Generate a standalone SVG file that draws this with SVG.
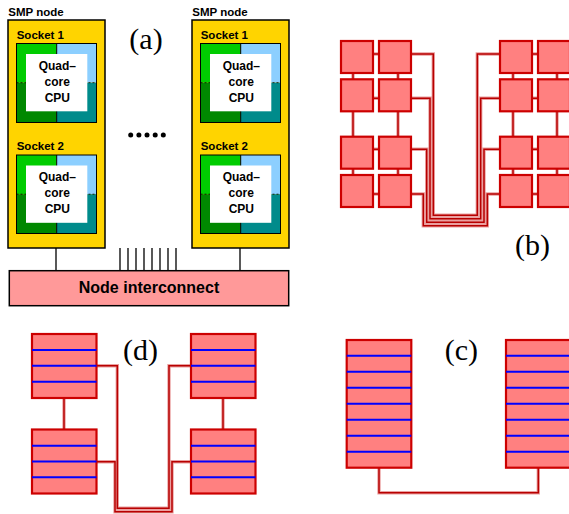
<svg xmlns="http://www.w3.org/2000/svg" width="569" height="514" viewBox="0 0 569 514">
<style>
.smp{fill:#ffd400;stroke:#000;stroke-width:1.5}
.lbl{font-family:"Liberation Sans",Arial,sans-serif;font-weight:bold;font-size:11.5px;fill:#000}
.cpu{font-family:"Liberation Sans",Arial,sans-serif;font-weight:bold;font-size:12px;fill:#000;text-anchor:middle}
.edge{fill:none;stroke:#000;stroke-width:1}
.dash{fill:none;stroke:#000;stroke-width:0.8;stroke-dasharray:2 2}
.sq{fill:#ff8080;stroke:#cc0000;stroke-width:2.2}
.halo{fill:none;stroke:#eaa0a0;stroke-width:3.4}
.wire{fill:none;stroke:#b80000;stroke-width:1.5}
.blue{stroke:#0000ff;stroke-width:2}
.cap{font-family:"Liberation Serif","Times New Roman",serif;font-size:30px;text-anchor:middle;fill:#000}
.bl{stroke:#000;stroke-width:1.3}
</style>
<rect width="569" height="514" fill="#fff"/>

<!-- Panel (a) -->
<g id="a-links">
  <path class="bl" d="M56 248V271M240 248V271M120 248V271M128 248V271M136 248V271M144 248V271M152 248V271M160 248V271M168 248V271M176 248V271"/>
</g>
<g id="smp-node-1">
  <text class="lbl" x="8.3" y="15.7">SMP node</text>
  <rect class="smp" x="8" y="20" width="97" height="228"/>
  <g id="smp1-socket1" transform="translate(16.5,43.5)">
    <text class="lbl" x="0.2" y="-5">Socket 1</text>
    <rect x="0" y="0" width="40.2" height="39.2" fill="#00cc00"/>
    <rect x="0" y="39.2" width="40.2" height="39.8" fill="#008800"/>
    <rect x="40.2" y="0" width="39.8" height="39.2" fill="#8ccfff"/>
    <rect x="40.2" y="39.2" width="39.8" height="39.8" fill="#008b8b"/>
    <path class="dash" d="M0 39.2H80"/>
    <path class="edge" d="M40.2 0V79"/>
    <rect class="edge" x="0" y="0" width="80" height="79"/>
    <rect x="9.5" y="10.5" width="61.3" height="57.3" fill="#fff"/>
    <text class="cpu" x="40.8" y="26.5">Quad–</text>
    <text class="cpu" x="40.8" y="42.5">core</text>
    <text class="cpu" x="40.8" y="58.2">CPU</text>
  </g>
  <g id="smp1-socket2" transform="translate(16.5,155)">
    <text class="lbl" x="0.2" y="-5.5">Socket 2</text>
    <rect x="0" y="0" width="40.2" height="39.2" fill="#00cc00"/>
    <rect x="0" y="39.2" width="40.2" height="39.3" fill="#008800"/>
    <rect x="40.2" y="0" width="39.8" height="39.2" fill="#8ccfff"/>
    <rect x="40.2" y="39.2" width="39.8" height="39.3" fill="#008b8b"/>
    <path class="dash" d="M0 39.2H80"/>
    <path class="edge" d="M40.2 0V78.5"/>
    <rect class="edge" x="0" y="0" width="80" height="78.5"/>
    <rect x="9.5" y="10.5" width="61.3" height="57.3" fill="#fff"/>
    <text class="cpu" x="40.8" y="26">Quad–</text>
    <text class="cpu" x="40.8" y="42">core</text>
    <text class="cpu" x="40.8" y="58">CPU</text>
  </g>
</g>
<g id="smp-node-2" transform="translate(184,0)">
  <text class="lbl" x="8.3" y="15.7">SMP node</text>
  <rect class="smp" x="8" y="20" width="97" height="228"/>
  <g id="smp2-socket1" transform="translate(16.5,43.5)">
    <text class="lbl" x="0.2" y="-5">Socket 1</text>
    <rect x="0" y="0" width="40.2" height="39.2" fill="#00cc00"/>
    <rect x="0" y="39.2" width="40.2" height="39.8" fill="#008800"/>
    <rect x="40.2" y="0" width="39.8" height="39.2" fill="#8ccfff"/>
    <rect x="40.2" y="39.2" width="39.8" height="39.8" fill="#008b8b"/>
    <path class="dash" d="M0 39.2H80"/>
    <path class="edge" d="M40.2 0V79"/>
    <rect class="edge" x="0" y="0" width="80" height="79"/>
    <rect x="9.5" y="10.5" width="61.3" height="57.3" fill="#fff"/>
    <text class="cpu" x="40.8" y="26.5">Quad–</text>
    <text class="cpu" x="40.8" y="42.5">core</text>
    <text class="cpu" x="40.8" y="58.2">CPU</text>
  </g>
  <g id="smp2-socket2" transform="translate(16.5,155)">
    <text class="lbl" x="0.2" y="-5.5">Socket 2</text>
    <rect x="0" y="0" width="40.2" height="39.2" fill="#00cc00"/>
    <rect x="0" y="39.2" width="40.2" height="39.3" fill="#008800"/>
    <rect x="40.2" y="0" width="39.8" height="39.2" fill="#8ccfff"/>
    <rect x="40.2" y="39.2" width="39.8" height="39.3" fill="#008b8b"/>
    <path class="dash" d="M0 39.2H80"/>
    <path class="edge" d="M40.2 0V78.5"/>
    <rect class="edge" x="0" y="0" width="80" height="78.5"/>
    <rect x="9.5" y="10.5" width="61.3" height="57.3" fill="#fff"/>
    <text class="cpu" x="40.8" y="26">Quad–</text>
    <text class="cpu" x="40.8" y="42">core</text>
    <text class="cpu" x="40.8" y="58">CPU</text>
  </g>
</g>
<g id="dots" fill="#000">
  <circle cx="130.7" cy="135" r="2.5"/><circle cx="138.9" cy="135" r="2.5"/><circle cx="147" cy="135" r="2.5"/><circle cx="155.2" cy="135" r="2.5"/><circle cx="163.3" cy="135" r="2.5"/>
</g>
<g id="interconnect">
  <rect x="9.3" y="270.7" width="279.4" height="35" fill="#ff9999" stroke="#000" stroke-width="1.5"/>
  <text x="149" y="293.3" text-anchor="middle" font-family="'Liberation Sans',Arial,sans-serif" font-weight="bold" font-size="16px">Node interconnect</text>
</g>
<text class="cap" x="146" y="48.5">(a)</text>

<!-- Connectors for (b), (c), (d) -->
<g id="connectors">
  <g class="halo">
    <path d="M353 41V207M398 41V207M513 41V207M557 41V207M341 54H411M341 98.3H411M341 149.3H411M341 194H411M500 54H570M500 98.3H570M500 149.3H570M500 194H570"/>
    <path d="M411 54H433.3V215.3H477.3V54H500M411 98.3H430V218.7H480.7V98.3H500M411 149.3H426.7V222.2H484V149.3H500M411 194H423.3V225.7H487.3V194H500"/>
    <path d="M96.7 365.7H117.3V508.3H169V365.7H191M96.7 461.7H115V511.7H172V461.7H191M64 398V430M223 398V430"/>
    <path d="M379 468V492.7H538.3V468"/>
  </g>
  <g class="wire">
    <path d="M353 41V207M398 41V207M513 41V207M557 41V207M341 54H411M341 98.3H411M341 149.3H411M341 194H411M500 54H570M500 98.3H570M500 149.3H570M500 194H570"/>
    <path d="M411 54H433.3V215.3H477.3V54H500M411 98.3H430V218.7H480.7V98.3H500M411 149.3H426.7V222.2H484V149.3H500M411 194H423.3V225.7H487.3V194H500"/>
    <path d="M96.7 365.7H117.3V508.3H169V365.7H191M96.7 461.7H115V511.7H172V461.7H191M64 398V430M223 398V430"/>
    <path d="M379 468V492.7H538.3V468"/>
  </g>
</g>

<!-- Panel (b) squares -->
<g id="b-grid-left">
  <rect class="sq" x="341" y="41" width="32" height="32"/>
  <rect class="sq" x="379" y="41" width="32" height="32"/>
  <rect class="sq" x="341" y="79.3" width="32" height="32"/>
  <rect class="sq" x="379" y="79.3" width="32" height="32"/>
  <rect class="sq" x="341" y="136.7" width="32" height="32"/>
  <rect class="sq" x="379" y="136.7" width="32" height="32"/>
  <rect class="sq" x="341" y="175" width="32" height="32"/>
  <rect class="sq" x="379" y="175" width="32" height="32"/>
</g>
<g id="b-grid-right">
  <rect class="sq" x="500" y="41" width="32" height="32"/>
  <rect class="sq" x="538" y="41" width="32" height="32"/>
  <rect class="sq" x="500" y="79.3" width="32" height="32"/>
  <rect class="sq" x="538" y="79.3" width="32" height="32"/>
  <rect class="sq" x="500" y="136.7" width="32" height="32"/>
  <rect class="sq" x="538" y="136.7" width="32" height="32"/>
  <rect class="sq" x="500" y="175" width="32" height="32"/>
  <rect class="sq" x="538" y="175" width="32" height="32"/>
</g>
<text class="cap" x="532.5" y="255.3">(b)</text>

<!-- Panel (d) -->
<g id="d-box-tl">
  <rect class="sq" x="32" y="334" width="64.5" height="64"/>
  <path class="blue" d="M32 350H96.5M32 365.7H96.5M32 381.7H96.5"/>
</g>
<g id="d-box-bl">
  <rect class="sq" x="32" y="429.5" width="64.5" height="64"/>
  <path class="blue" d="M32 445.7H96.5M32 461.5H96.5M32 477.3H96.5"/>
</g>
<g id="d-box-tr">
  <rect class="sq" x="191" y="334" width="64.5" height="64"/>
  <path class="blue" d="M191 350H255.5M191 365.7H255.5M191 381.7H255.5"/>
</g>
<g id="d-box-br">
  <rect class="sq" x="191" y="429.5" width="64.5" height="64"/>
  <path class="blue" d="M191 445.7H255.5M191 461.5H255.5M191 477.3H255.5"/>
</g>
<text class="cap" x="140.5" y="360.3">(d)</text>

<!-- Panel (c) -->
<g id="c-box-left">
  <rect class="sq" x="346.7" y="340" width="64.6" height="127.7"/>
  <path class="blue" d="M346.7 355.7H411.3M346.7 371.7H411.3M346.7 387.7H411.3M346.7 403.7H411.3M346.7 419.7H411.3M346.7 435.7H411.3M346.7 451.7H411.3"/>
</g>
<g id="c-box-right">
  <rect class="sq" x="506" y="340" width="66" height="127.7"/>
  <path class="blue" d="M506 355.7H572M506 371.7H572M506 387.7H572M506 403.7H572M506 419.7H572M506 435.7H572M506 451.7H572"/>
</g>
<text class="cap" x="461.3" y="360.3">(c)</text>
</svg>
